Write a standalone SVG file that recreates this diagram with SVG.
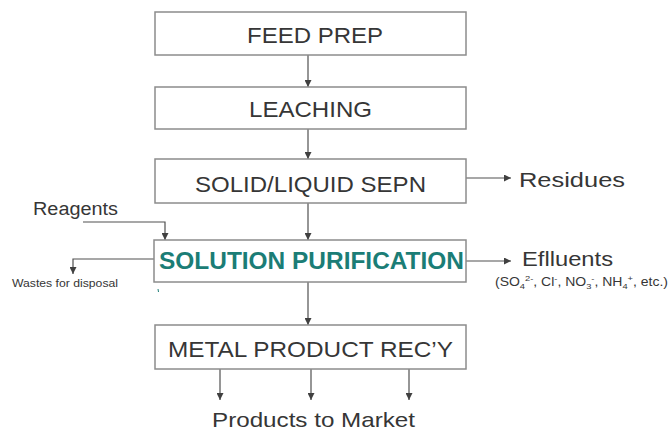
<svg xmlns="http://www.w3.org/2000/svg" width="672" height="432" viewBox="0 0 672 432">
  <defs>
    <marker id="arrow" viewBox="0 0 8 8" refX="8" refY="4" markerWidth="7" markerHeight="7" markerUnits="userSpaceOnUse" orient="auto">
      <path d="M0,0 L8,4 L0,8 Z" fill="#404040"/>
    </marker>
    <style>
      .box { fill: #ffffff; stroke: #8c8c8c; stroke-width: 1.5; }
      .lbl { font-family: "Liberation Sans", Arial, sans-serif; fill: #363636; }
      .step { font-size: 22px; }
      .key { font-size: 24px; font-weight: bold; fill: #1b7d76; }
      .side { font-size: 21px; }
      .small { font-size: 12px; }
      .conn { fill: none; stroke: #505050; stroke-width: 1.2; marker-end: url(#arrow); }
    </style>
  </defs>
  <rect width="672" height="432" fill="#ffffff"/>

  <!-- connectors -->
  <g id="connectors">
    <path class="conn" d="M308,55 V87"/>
    <path class="conn" d="M308,129 V159"/>
    <path class="conn" d="M308,203 V240"/>
    <path class="conn" d="M308,282 V325"/>
    <path class="conn" d="M466,178 H511"/>
    <path class="conn" d="M466,261 H511"/>
    <path class="conn" d="M83,222 H165 V240"/>
    <path class="conn" d="M154,259 H73 V274"/>
    <path class="conn" d="M220,369 V400"/>
    <path class="conn" d="M311,369 V400"/>
    <path class="conn" d="M409,369 V400"/>
  </g>

  <!-- process steps -->
  <g id="feed-prep">
    <rect class="box" x="155" y="12" width="311" height="43"/>
    <text class="lbl step" x="247" y="43" textLength="136" lengthAdjust="spacingAndGlyphs">FEED PREP</text>
  </g>
  <g id="leaching">
    <rect class="box" x="155" y="87" width="311" height="42"/>
    <text class="lbl step" x="249" y="117" textLength="123" lengthAdjust="spacingAndGlyphs">LEACHING</text>
  </g>
  <g id="solid-liquid-sepn">
    <rect class="box" x="155" y="159" width="311" height="44"/>
    <text class="lbl step" x="195" y="192" textLength="231" lengthAdjust="spacingAndGlyphs">SOLID/LIQUID SEPN</text>
  </g>
  <g id="solution-purification">
    <rect class="box" x="154" y="240" width="312" height="42"/>
    <text class="lbl key" x="159" y="269" textLength="305" lengthAdjust="spacingAndGlyphs">SOLUTION PURIFICATION</text>
    <path d="M158,289 l0.5,3" stroke="#1b7d76" stroke-width="1"/>
  </g>
  <g id="metal-product-recovery">
    <rect class="box" x="155" y="325" width="311" height="44"/>
    <text class="lbl step" x="168" y="357" textLength="285" lengthAdjust="spacingAndGlyphs">METAL PRODUCT REC’Y</text>
  </g>

  <!-- inputs and outputs -->
  <g id="residues">
    <text class="lbl side" x="519" y="187" textLength="106" lengthAdjust="spacingAndGlyphs">Residues</text>
  </g>
  <g id="effluents">
    <text class="lbl side" x="522" y="266" textLength="91" lengthAdjust="spacingAndGlyphs">Eflluents</text>
    <text class="lbl small" x="495" y="286" textLength="173" lengthAdjust="spacingAndGlyphs">(SO<tspan font-size="8" dy="3">4</tspan><tspan font-size="8" dy="-8">2-</tspan><tspan dy="5">, Cl</tspan><tspan font-size="8" dy="-5">-</tspan><tspan dy="5">, NO</tspan><tspan font-size="8" dy="3">3</tspan><tspan font-size="8" dy="-8">-</tspan><tspan dy="5">, NH</tspan><tspan font-size="8" dy="3">4</tspan><tspan font-size="8" dy="-8">+</tspan><tspan dy="5">, etc.)</tspan></text>
  </g>
  <g id="reagents">
    <text class="lbl" font-size="18" x="33" y="215" textLength="85" lengthAdjust="spacingAndGlyphs">Reagents</text>
  </g>
  <g id="wastes">
    <text class="lbl" font-size="11" x="12" y="287" textLength="106" lengthAdjust="spacingAndGlyphs">Wastes for disposal</text>
  </g>
  <g id="products">
    <text class="lbl side" x="212" y="427" textLength="203" lengthAdjust="spacingAndGlyphs">Products to Market</text>
  </g>
</svg>
